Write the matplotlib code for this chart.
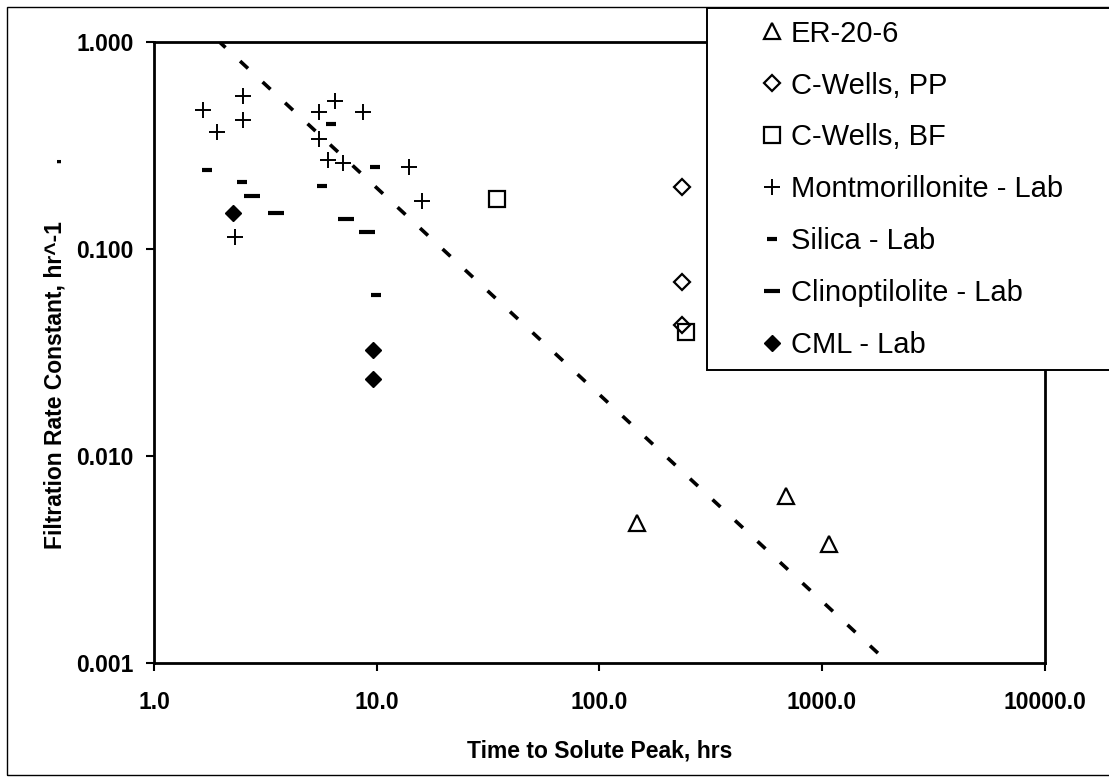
import numpy as np
import matplotlib.pyplot as plt
from matplotlib.ticker import FixedLocator, FormatStrFormatter, NullLocator
from matplotlib.patches import Rectangle

plt.rcParams['font.family'] = ['Liberation Sans', 'DejaVu Sans']

# ---- data ----
er_x = [148, 686, 1077]
er_y = [0.00478, 0.00643, 0.00377]

pp_x = [235, 235, 235]
pp_y = [0.2006, 0.0697, 0.0431]

bf_x = [34.5, 246]
bf_y = [0.175, 0.040]

mont_x = [1.65, 1.91, 2.51, 2.51, 2.30, 5.50, 6.48, 8.69, 5.50, 6.01, 7.06, 13.98, 15.9]
mont_y = [0.471, 0.370, 0.550, 0.421, 0.115, 0.462, 0.522, 0.462, 0.340, 0.270, 0.260, 0.251, 0.171]

silica_x = [1.72, 2.48, 6.20, 5.68, 9.80, 9.91]
silica_y = [0.2416, 0.2107, 0.402, 0.202, 0.251, 0.0601]

clino_x = [2.75, 3.51, 7.26, 9.05]
clino_y = [0.181, 0.150, 0.140, 0.121]

cml_x = [2.26, 9.63, 9.63]
cml_y = [0.150, 0.0325, 0.0236]

# trend line, listed from its lower end so the dash pattern starts there
trend_x = [1783, 1.97]
trend_y = [0.00112, 1.0]

xticks = [1, 10, 100, 1000, 10000]
yticks = [0.001, 0.01, 0.1, 1.0]

W, H = 1109, 781


def fx(px):
    return px / W


def fy(py):
    return 1 - py / H


fig = plt.figure(figsize=(W / 100, H / 100), dpi=100)
ax = fig.add_axes([fx(154.3), fy(663.3), fx(1044.6) - fx(154.3), fy(42.3) - fy(663.3)])

ax.plot(trend_x, trend_y, color='black', lw=2.6, dashes=(2.99, 5.51),
        solid_capstyle='butt', dash_capstyle='butt', zorder=2)

h_er, = ax.plot(er_x, er_y, ls='none', marker='^', ms=11, mfc='white', mec='black', mew=1.6, zorder=3)
h_pp, = ax.plot(pp_x, pp_y, ls='none', marker='D', ms=8, mfc='white', mec='black', mew=1.6, zorder=3)
h_bf, = ax.plot(bf_x, bf_y, ls='none', marker='s', ms=11, mfc='none', mec='black', mew=1.6, zorder=3)
h_mo, = ax.plot(mont_x, mont_y, ls='none', marker='+', ms=11, mec='black', mew=1.4, zorder=3)
h_si, = ax.plot(silica_x, silica_y, ls='none', marker='_', ms=6.5, mec='black', mew=3, zorder=3)
h_cl, = ax.plot(clino_x, clino_y, ls='none', marker='_', ms=11.5, mec='black', mew=3, zorder=3)
h_cm, = ax.plot(cml_x, cml_y, ls='none', marker='D', ms=8, mfc='black', mec='black', mew=1, zorder=3)

ax.set_xscale('log')
ax.set_yscale('log')
ax.set_xlim(1, 10000)
ax.set_ylim(0.001, 1)
ax.xaxis.set_major_locator(FixedLocator(xticks))
ax.yaxis.set_major_locator(FixedLocator(yticks))
ax.xaxis.set_minor_locator(NullLocator())
ax.yaxis.set_minor_locator(NullLocator())
ax.xaxis.set_major_formatter(FormatStrFormatter('%.1f'))
ax.yaxis.set_major_formatter(FormatStrFormatter('%.3f'))

for sp in ax.spines.values():
    sp.set_linewidth(2.0)
ax.tick_params(axis='both', which='major', direction='out', length=5.8, width=1.5,
               labelsize=16.5)
ax.tick_params(axis='x', pad=14)
ax.tick_params(axis='y', pad=9)
for lab in ax.get_xticklabels() + ax.get_yticklabels():
    lab.set_fontweight('bold')

ax.set_xlabel('Time to Solute Peak, hrs', fontsize=16.5, fontweight='bold')
ax.xaxis.set_label_coords(0.5, -(739.6 - 663.3) / 621)
ax.set_ylabel('Filtration Rate Constant, hr^-1' + ' ' * 9 + '.', fontsize=16.5, fontweight='bold')
ax.yaxis.set_label_coords((66.8 - 154.3) / 890.3, 0.5)

# chart area border
fig.patches.append(Rectangle((fx(7), fy(775)), fx(1200) - fx(7), fy(7) - fy(775),
                             transform=fig.transFigure, fill=False, ec='black', lw=1.0, zorder=0))

# legend box
fig.patches.append(Rectangle((fx(707), fy(370)), fx(1130) - fx(707), fy(8) - fy(370),
                             transform=fig.transFigure, fc='white', ec='black', lw=1.4, zorder=4))

labels = ['ER-20-6', 'C-Wells, PP', 'C-Wells, BF', 'Montmorillonite - Lab',
          'Silica - Lab', 'Clinoptilolite - Lab', 'CML - Lab']
leg = fig.legend([h_er, h_pp, h_bf, h_mo, h_si, h_cl, h_cm], labels,
                 loc='upper left', bbox_to_anchor=(fx(757.75), fy(19.6)),
                 bbox_transform=fig.transFigure, frameon=False, fontsize=21,
                 borderpad=0, borderaxespad=0, handlelength=1.0, handletextpad=0.13,
                 labelspacing=0.82)
leg.set_zorder(5)

fig.savefig('out.png', dpi=100)
